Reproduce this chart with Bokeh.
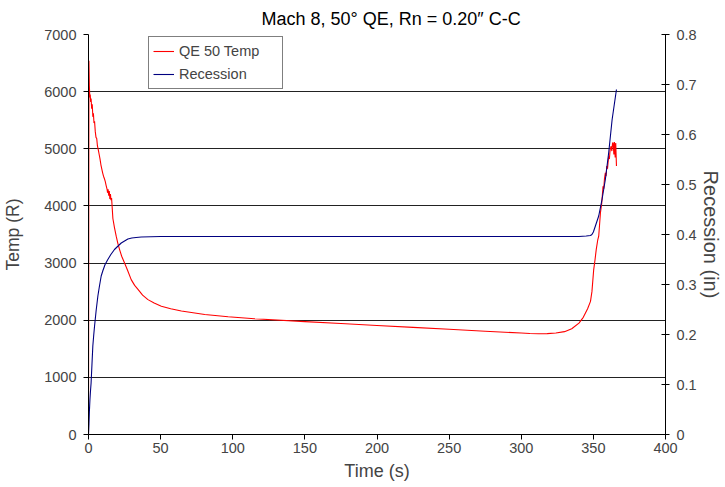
from bokeh.plotting import figure
from bokeh.models import Range1d, LinearAxis, FixedTicker, Legend, LegendItem
from bokeh.embed import file_html
from bokeh.resources import INLINE

# ---- data ----
title_text = "Mach 8, 50\u00b0 QE, Rn = 0.20\u2033 C-C"
x_ticks = [0, 50, 100, 150, 200, 250, 300, 350, 400]
temp_ticks = [0, 1000, 2000, 3000, 4000, 5000, 6000, 7000]
rec_ticks = [0, 0.1, 0.2, 0.3, 0.4, 0.5, 0.6, 0.7, 0.8]

temp_time = [0, 0.3, 0.6, 0.9, 1.2, 1.5, 1.8, 2.2, 2.6, 3.0, 3.4, 3.8, 4.2, 4.7, 5.2, 5.7,
             6.2, 6.8, 7.4, 8.0, 8.6, 9.2, 9.8, 10.4, 11.0, 11.6, 12.2, 12.8, 13.2, 13.6,
             14.0, 14.4, 14.8, 15.2, 15.6, 16.0, 16.9, 18.0, 19.2, 20.3, 21.5, 23.0, 25.0,
             27.0, 29.6, 32.0, 34.3, 37.5, 41.2, 45.5, 50.5, 57.0, 64.4, 80.6, 96.8, 115,
             150, 175, 200, 225, 250, 275, 300, 306, 312, 318, 324, 330, 335, 340, 343,
             346, 348, 349, 350.2, 351.1, 352, 353, 353.7, 354.9, 355.8, 356.7, 357.2,
             357.7, 358.3, 358.8, 359.3, 359.8, 360.6, 361.1, 361.6, 362.3, 362.8, 363.3,
             363.7, 364.2, 364.6, 365.1, 365.5, 366.0]
temp_vals = [0, 6540, 6100, 5900, 5950, 5820, 5880, 5700, 5780, 5560, 5620, 5450, 5480, 5300,
             5200, 5180, 5050, 4980, 4900, 4820, 4720, 4650, 4580, 4520, 4480, 4430, 4360,
             4300, 4230, 4290, 4180, 4260, 4120, 4210, 4100, 4140, 3780, 3620, 3470, 3350,
             3240, 3120, 3000, 2880, 2710, 2610, 2540, 2440, 2360, 2300, 2245, 2200, 2160,
             2100, 2060, 2025, 1975, 1942, 1908, 1875, 1842, 1808, 1775, 1767, 1762, 1765,
             1775, 1800, 1850, 1950, 2050, 2200, 2330, 2500, 2880, 3050, 3240, 3400, 3470,
             3880, 4050, 4345, 4300, 4480, 4580, 4520, 4700, 4650, 4870, 4820, 4980, 5045,
             4960, 5100, 5105, 4900, 5120, 4850, 5100, 4700, 4580]

rec_time = [0, 0.3, 0.6, 1.0, 1.4, 1.8, 2.4, 3.0, 3.6, 4.2, 5.3, 6.5, 7.6, 8.8, 10.0,
            11.5, 13.4, 15.5, 18.0, 20.5, 22.7, 25.0, 27.3, 30.0, 33.0, 36.6, 50, 100,
            200, 300, 340, 345, 348, 349, 350, 351.4, 353.7, 356.0, 358.3, 360.6, 363.0,
            366.0]
rec_vals = [0, 0.02, 0.045, 0.07, 0.088, 0.103, 0.14, 0.177, 0.198, 0.217, 0.248, 0.277,
            0.297, 0.317, 0.328, 0.34, 0.35, 0.36, 0.37, 0.377, 0.383, 0.387, 0.391, 0.393,
            0.394, 0.395, 0.396, 0.396, 0.396, 0.396, 0.396, 0.397, 0.398, 0.400, 0.405,
            0.417, 0.437, 0.470, 0.510, 0.563, 0.630, 0.690]

SANS = "Liberation Sans"

p = figure(frame_width=577, frame_height=400,
           x_range=Range1d(0, 400), y_range=Range1d(0, 7000),
           output_backend="svg", toolbar_location=None,
           min_border_left=0, min_border_right=0, min_border_top=0, min_border_bottom=0,
           background_fill_color="white", border_fill_color="white")
p.outline_line_color = None

p.title.text = title_text
p.title.align = "left"
p.title.text_font = SANS
p.title.text_font_size = "18px"
p.title.text_font_style = "normal"
p.title.text_color = "black"
p.title.standoff = 12
p.title.offset = 173

# x axis
xa = p.xaxis[0]
xa.ticker = FixedTicker(ticks=x_ticks)
xa.axis_label = "Time (s)"
xa.axis_label_text_font = SANS
xa.axis_label_text_font_size = "18px"
xa.axis_label_text_font_style = "normal"
xa.axis_label_standoff = 5
xa.major_label_text_font = SANS
xa.major_label_text_font_size = "14.5px"
xa.major_label_standoff = 3
xa.major_tick_in = 0
xa.major_tick_out = 5
xa.minor_tick_line_color = None
xa.axis_line_color = "black"
xa.major_tick_line_color = "black"

# left axis
ya = p.yaxis[0]
ya.ticker = FixedTicker(ticks=temp_ticks)
ya.axis_label = "Temp (R)"
ya.axis_label_text_font = SANS
ya.axis_label_text_font_size = "17.5px"
ya.axis_label_text_font_style = "normal"
ya.axis_label_standoff = 18
ya.major_label_text_font = SANS
ya.major_label_text_font_size = "14.5px"
ya.major_label_standoff = 7
ya.major_tick_in = 0
ya.major_tick_out = 5
ya.minor_tick_line_color = None
ya.axis_line_color = "black"
ya.major_tick_line_color = "black"

# right axis
p.extra_y_ranges = {"rec": Range1d(0, 0.8)}
ra = LinearAxis(y_range_name="rec", ticker=FixedTicker(ticks=rec_ticks))
ra.axis_label = "Recession (in)"
ra.axis_label_text_font = SANS
ra.axis_label_text_font_size = "20px"
ra.axis_label_text_font_style = "normal"
ra.axis_label_standoff = 0
ra.major_label_text_font = SANS
ra.major_label_text_font_size = "14.5px"
ra.major_label_standoff = 7
ra.major_label_overrides = {0: "0"}
ra.major_tick_in = 4
ra.major_tick_out = 4
ra.minor_tick_line_color = None
ra.axis_line_color = "black"
ra.major_tick_line_color = "black"
p.add_layout(ra, "right")

p.xgrid.visible = False
p.ygrid.grid_line_color = "#222222"
p.ygrid.grid_line_width = 1

r_temp = p.line(temp_time, temp_vals, line_color="#FF0000", line_width=1.1)
r_rec = p.line(rec_time, rec_vals, line_color="#000080", line_width=1.1, y_range_name="rec")

legend = Legend(items=[LegendItem(label="QE 50 Temp", renderers=[r_temp]),
                       LegendItem(label="Recession", renderers=[r_rec])],
                location=(60, 345))
legend.label_text_font = SANS
legend.label_text_font_size = "14.5px"
legend.glyph_width = 21
legend.glyph_height = 20
legend.label_height = 20
legend.label_width = 99
legend.spacing = 3
legend.padding = 4
legend.margin = 0
legend.label_standoff = 5
legend.border_line_color = "black"
legend.border_line_width = 1
legend.background_fill_alpha = 1
p.add_layout(legend)

open("out.html", "w").write(file_html(p, INLINE))
